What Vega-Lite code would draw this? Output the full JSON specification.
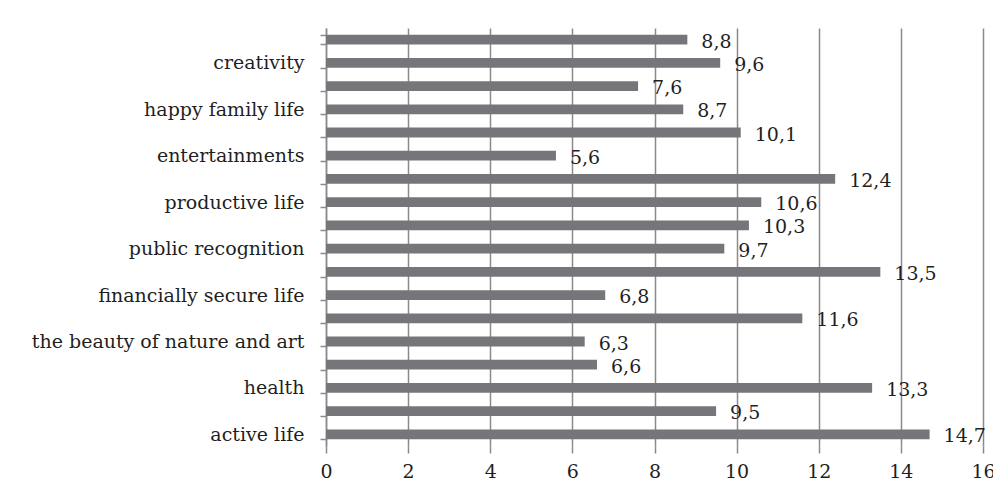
{
  "$schema": "https://vega.github.io/schema/vega-lite/v6.json",
  "width": 657,
  "height": 418,
  "autosize": {"type": "none"},
  "padding": {"left": 326, "top": 28, "right": 10, "bottom": 44},
  "background": "white",
  "config": {
    "locale": {"number": {"decimal": ",", "thousands": ".", "grouping": [3], "currency": ["", ""]}},
    "view": {"stroke": null},
    "font": "DejaVu Serif"
  },
  "data": {"values": [
    {"value": "active life", "rank": 1, "score": 14.7},
    {"value": "life wisdom", "rank": 2, "score": 9.5},
    {"value": "health", "rank": 3, "score": 13.3},
    {"value": "interesting work", "rank": 4, "score": 6.6},
    {"value": "the beauty of nature and art", "rank": 5, "score": 6.3},
    {"value": "love", "rank": 6, "score": 11.6},
    {"value": "financially secure life", "rank": 7, "score": 6.8},
    {"value": "good and true friends", "rank": 8, "score": 13.5},
    {"value": "public recognition", "rank": 9, "score": 9.7},
    {"value": "cognition", "rank": 10, "score": 10.3},
    {"value": "productive life", "rank": 11, "score": 10.6},
    {"value": "development", "rank": 12, "score": 12.4},
    {"value": "entertainments", "rank": 13, "score": 5.6},
    {"value": "freedom", "rank": 14, "score": 10.1},
    {"value": "happy family life", "rank": 15, "score": 8.7},
    {"value": "happiness of others", "rank": 16, "score": 7.6},
    {"value": "creativity", "rank": 17, "score": 9.6},
    {"value": "self-confidence", "rank": 18, "score": 8.8}
  ]},
  "encoding": {
    "y": {
      "field": "value", "type": "nominal",
      "sort": {"field": "rank", "order": "descending"},
      "scale": {"paddingInner": 0.58, "paddingOuter": 0.29},
      "axis": {
        "title": null,
        "tickBand": "extent",
        "tickSize": 6,
        "tickColor": "#8a8a8a",
        "tickWidth": 1.5,
        "domainColor": "#8a8a8a",
        "domainWidth": 1.5,
        "labelFont": "DejaVu Serif",
        "labelFontSize": 19,
        "labelColor": "#1f1f1f",
        "labelPadding": 16,
        "labelLimit": 0,
        "labelExpr": "indexof(['active life','health','the beauty of nature and art','financially secure life','public recognition','productive life','entertainments','happy family life','creativity'], datum.label) >= 0 ? datum.label : ''"
      }
    },
    "x": {
      "field": "score", "type": "quantitative",
      "scale": {"domain": [0, 16], "nice": false},
      "axis": {
        "title": null,
        "values": [0, 2, 4, 6, 8, 10, 12, 14, 16],
        "grid": true,
        "gridColor": "#8a8a8a",
        "gridWidth": 1.5,
        "domain": false,
        "tickSize": 7,
        "tickColor": "#8a8a8a",
        "tickWidth": 1.5,
        "labelFont": "DejaVu Serif",
        "labelFontSize": 19,
        "labelColor": "#1f1f1f",
        "labelPadding": 9,
        "labelFlush": false
      }
    }
  },
  "layer": [
    {"mark": {"type": "bar", "color": "#76767a"}},
    {
      "mark": {"type": "text", "align": "left", "baseline": "middle", "dx": 14, "dy": 2, "font": "DejaVu Serif", "fontSize": 19, "color": "#1f1f1f"},
      "encoding": {"text": {"field": "score", "type": "quantitative", "format": ".1f"}}
    }
  ]
}
